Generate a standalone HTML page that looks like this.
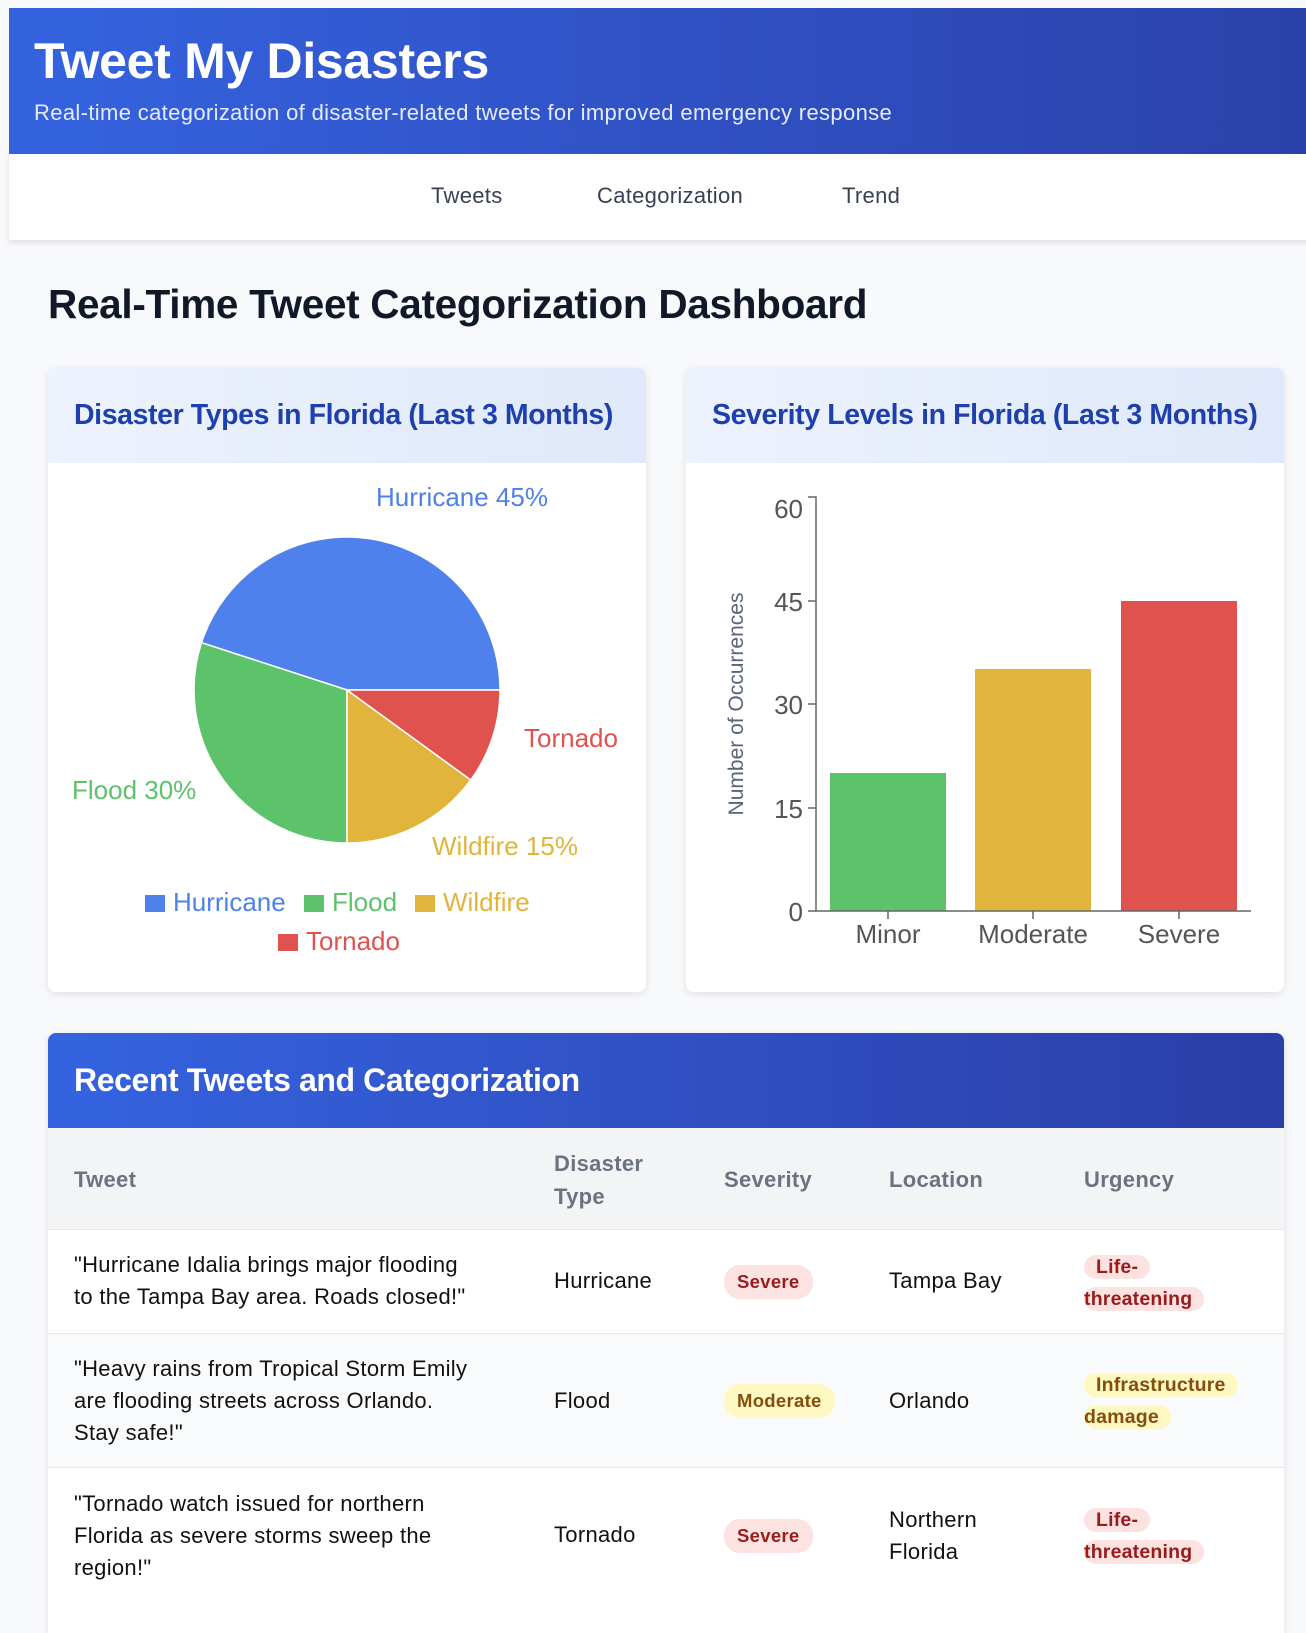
<!DOCTYPE html>
<html><head><meta charset="utf-8"><style>
*{box-sizing:border-box;margin:0;padding:0}
body{width:1306px;height:1576px;overflow:hidden;background:#f8f9fb;font-family:"Liberation Sans",sans-serif;position:relative}
.a{position:absolute}
.hdr{left:9px;top:8px;width:1310px;height:146px;background:linear-gradient(90deg,#3563e0,#2b41aa)}
.nav{left:9px;top:154px;width:1310px;height:86px;background:#fff;box-shadow:0 3px 6px rgba(0,0,0,.1)}
.card{background:#fff;border-radius:8px;box-shadow:0 2px 8px rgba(0,0,0,.1);overflow:hidden}
.ch{position:absolute;left:0;top:0;right:0;height:95px;background:linear-gradient(90deg,#edf2fd,#dfe9fb)}
.ch div{position:absolute;left:26px;top:31px;font-size:28.5px;font-weight:bold;color:#1e3fae;letter-spacing:-0.4px}
.th{font-size:22px;font-weight:bold;color:#6b7280;line-height:33px;letter-spacing:0.3px}
.td{font-size:22px;color:#111;line-height:32px;letter-spacing:0.3px}
.b{display:inline-block;border-radius:16px;padding:0 13px;font-size:18.5px;font-weight:bold;line-height:34px;letter-spacing:0.3px}
.sv{background:#fde2e2;color:#991b1b}.md{background:#fef9c3;color:#854d0e}
.ub{font-size:19.5px;font-weight:bold;line-height:32px;letter-spacing:0.2px}
.ub span{padding:1px 12px 1px 12px;border-radius:14px;box-decoration-break:clone;-webkit-box-decoration-break:clone}
</style></head><body>
<div class="a hdr"></div>
<div class="a" style="left:34px;top:32px;font-size:50px;font-weight:bold;color:#fff;letter-spacing:-0.3px">Tweet My Disasters</div>
<div class="a" style="left:34px;top:100px;font-size:22px;color:#e5ebff;letter-spacing:0.35px">Real-time categorization of disaster-related tweets for improved emergency response</div>
<div class="a nav"></div>
<div class="a" style="left:431px;top:183px;font-size:22px;color:#374151;letter-spacing:0.3px">Tweets</div>
<div class="a" style="left:597px;top:183px;font-size:22px;color:#374151;letter-spacing:0.3px">Categorization</div>
<div class="a" style="left:842px;top:183px;font-size:22px;color:#374151;letter-spacing:0.3px">Trend</div>
<div class="a" style="left:48px;top:281px;font-size:40.5px;font-weight:bold;color:#111827;letter-spacing:-0.3px">Real-Time Tweet Categorization Dashboard</div>

<div class="a card" style="left:48px;top:368px;width:598px;height:624px"><div class="ch"><div>Disaster Types in Florida (Last 3 Months)</div></div></div>
<div class="a card" style="left:686px;top:368px;width:598px;height:624px"><div class="ch"><div>Severity Levels in Florida (Last 3 Months)</div></div></div>

<svg class="a" style="left:0;top:0" width="1306" height="1000" font-family="Liberation Sans, sans-serif">
<g stroke="#fff" stroke-width="1.5">
<path d="M347,690 L500,690 A153,153 0 0 0 201.5,642.7 Z" fill="#4e81ec"/>
<path d="M347,690 L201.5,642.7 A153,153 0 0 0 347,843 Z" fill="#5dc36a"/>
<path d="M347,690 L347,843 A153,153 0 0 0 470.8,780 Z" fill="#e1b53c"/>
<path d="M347,690 L470.8,780 A153,153 0 0 0 500,690 Z" fill="#df524e"/>
</g>
<g font-size="26">
<text x="376" y="506" fill="#4e81ec">Hurricane 45%</text>
<text x="524" y="747" fill="#df524e">Tornado</text>
<text x="72" y="799" fill="#5dc36a">Flood 30%</text>
<text x="432" y="855" fill="#e1b53c">Wildfire 15%</text>
<rect x="145" y="895" width="20" height="17" fill="#4e81ec"/><text x="173" y="911" fill="#4e81ec">Hurricane</text>
<rect x="304" y="895" width="20" height="17" fill="#5dc36a"/><text x="332" y="911" fill="#5dc36a">Flood</text>
<rect x="415" y="895" width="20" height="17" fill="#e1b53c"/><text x="443" y="911" fill="#e1b53c">Wildfire</text>
<rect x="278" y="934" width="20" height="17" fill="#df524e"/><text x="306" y="950" fill="#df524e">Tornado</text>
</g>
<rect x="830" y="773" width="116" height="138" fill="#5dc36a"/>
<rect x="975" y="669" width="116" height="242" fill="#e1b53c"/>
<rect x="1121" y="601" width="116" height="310" fill="#df524e"/>
<g stroke="#666" stroke-width="1.5" fill="none">
<path d="M808,497 H816 V911 H1251"/>
<path d="M808,601 H816 M808,704 H816 M808,808 H816 M808,911 H816 M888,911 V919 M1033,911 V919 M1179,911 V919"/>
</g>
<g font-size="26" fill="#555" text-anchor="end">
<text x="803" y="518">60</text><text x="803" y="611">45</text><text x="803" y="714">30</text><text x="803" y="818">15</text><text x="803" y="921">0</text>
</g>
<g font-size="26" fill="#555" text-anchor="middle">
<text x="888" y="943">Minor</text><text x="1033" y="943">Moderate</text><text x="1179" y="943">Severe</text>
</g>
<text transform="translate(743,704) rotate(-90)" text-anchor="middle" font-size="21" fill="#5a6478">Number of Occurrences</text>
</svg>

<div class="a" style="left:48px;top:1033px;width:1236px;height:600px;background:#fff;border-radius:8px 8px 0 0;overflow:hidden;box-shadow:0 2px 8px rgba(0,0,0,.1)">
<div class="a" style="left:0;top:0;width:1236px;height:95px;background:linear-gradient(90deg,#3563e0,#2b3ea8)"></div>
<div class="a" style="left:26px;top:29px;font-size:32px;font-weight:bold;color:#fff;letter-spacing:-0.4px">Recent Tweets and Categorization</div>
<div class="a" style="left:0;top:95px;width:1236px;height:102px;background:#f3f4f6;border-bottom:1px solid #e5e7eb"></div>
<div class="a th" style="left:26px;top:130px">Tweet</div>
<div class="a th" style="left:506px;top:114px">Disaster<br>Type</div>
<div class="a th" style="left:676px;top:130px">Severity</div>
<div class="a th" style="left:841px;top:130px">Location</div>
<div class="a th" style="left:1036px;top:130px">Urgency</div>

<div class="a" style="left:0;top:300px;width:1236px;height:135px;background:#f9fafb;border-top:1px solid #e5e7eb;border-bottom:1px solid #e5e7eb"></div>

<div class="a td" style="left:26px;top:216px">"Hurricane Idalia brings major flooding<br>to the Tampa Bay area. Roads closed!"</div>
<div class="a td" style="left:506px;top:232px">Hurricane</div>
<div class="a" style="left:676px;top:232px"><span class="b sv">Severe</span></div>
<div class="a td" style="left:841px;top:232px">Tampa Bay</div>
<div class="a ub" style="left:1036px;top:218px;width:170px"><span class="sv">Life-<br></span><span class="sv" style="padding-left:0">threatening</span></div>

<div class="a td" style="left:26px;top:320px">"Heavy rains from Tropical Storm Emily<br>are flooding streets across Orlando.<br>Stay safe!"</div>
<div class="a td" style="left:506px;top:352px">Flood</div>
<div class="a" style="left:676px;top:351px"><span class="b md">Moderate</span></div>
<div class="a td" style="left:841px;top:352px">Orlando</div>
<div class="a ub" style="left:1036px;top:336px;width:180px"><span class="md">Infrastructure<br></span><span class="md" style="padding-left:0">damage</span></div>

<div class="a td" style="left:26px;top:455px">"Tornado watch issued for northern<br>Florida as severe storms sweep the<br>region!"</div>
<div class="a td" style="left:506px;top:486px">Tornado</div>
<div class="a" style="left:676px;top:486px"><span class="b sv">Severe</span></div>
<div class="a td" style="left:841px;top:471px">Northern<br>Florida</div>
<div class="a ub" style="left:1036px;top:471px;width:170px"><span class="sv">Life-<br></span><span class="sv" style="padding-left:0">threatening</span></div>
</div>
</body></html>
